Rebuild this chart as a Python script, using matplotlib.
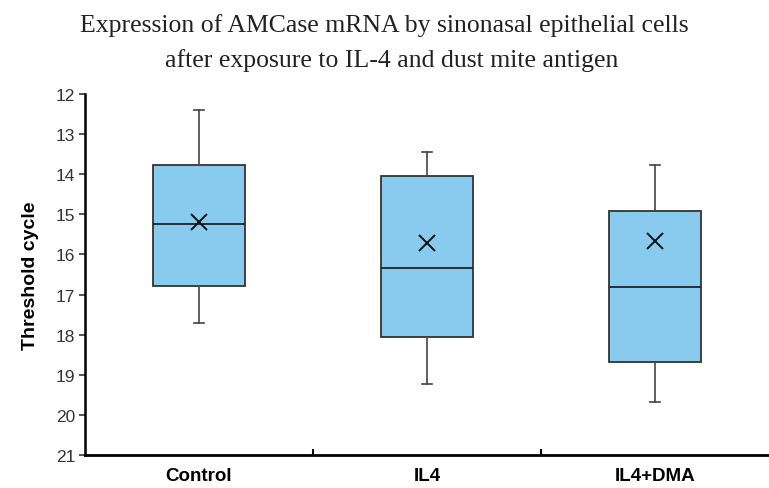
import matplotlib.pyplot as plt

plt.rcParams['font.family'] = ['Liberation Sans', 'DejaVu Sans']

groups = ['Control', 'IL4', 'IL4+DMA']
whisker_low = [12.39, 13.44, 13.76]
q1 = [13.77, 14.05, 14.92]
medians = [15.24, 16.33, 16.80]
q3 = [16.79, 18.05, 18.69]
whisker_high = [17.70, 19.22, 19.67]
means = [15.20, 15.72, 15.66]

stats = []
for i in range(len(groups)):
    stats.append(dict(label=groups[i], whislo=whisker_low[i], q1=q1[i], med=medians[i],
                      q3=q3[i], whishi=whisker_high[i], mean=means[i], fliers=[]))

fig = plt.figure(figsize=(7.69, 4.89), dpi=100)
ax = fig.add_axes([85/769, 33/489, 1 - 85/769, 361/489])

ax.bxp(stats, positions=[1, 2, 3], widths=0.4, showmeans=True, patch_artist=True,
       boxprops=dict(facecolor='#88CBEE', edgecolor='#333333', linewidth=1.3),
       medianprops=dict(color='#222222', linewidth=1.3),
       whiskerprops=dict(color='#444444', linewidth=1.2),
       capprops=dict(color='#444444', linewidth=1.2),
       capwidths=0.045,
       meanprops=dict(marker='x', markeredgecolor='#111111', markersize=11, markeredgewidth=1.4))

ax.set_xlim(0.5, 3.5)
ax.set_ylim(21, 12)
ax.set_yticks(range(12, 22))
ax.set_xticks([1.5, 2.5], minor=False)
ax.set_xticks([1, 2, 3], minor=True)
ax.set_xticklabels([])
ax.set_xticklabels(groups, minor=True, fontweight='bold', fontsize=13.5)
ax.tick_params(axis='x', which='minor', length=0, pad=9)
ax.tick_params(axis='x', which='major', direction='in', length=4, width=1.5)
ax.tick_params(axis='y', direction='out', length=4, width=1.2, pad=3, labelsize=12.5, colors='#333333')

for s in ['top', 'right']:
    ax.spines[s].set_visible(False)
ax.spines['left'].set_linewidth(1.8)
ax.spines['bottom'].set_linewidth(2)

ax.set_ylabel('Threshold cycle', fontweight='bold', fontsize=14, labelpad=12)

fig.text(384/769, 1 - 32/489, 'Expression of AMCase mRNA by sinonasal epithelial cells',
         ha='center', va='baseline', family='Liberation Serif', fontsize=18.5, color='#222222')
fig.text(392/769, 1 - 67/489, 'after exposure to IL-4 and dust mite antigen',
         ha='center', va='baseline', family='Liberation Serif', fontsize=18.5, color='#222222')

fig.savefig('out.png', dpi=100)
